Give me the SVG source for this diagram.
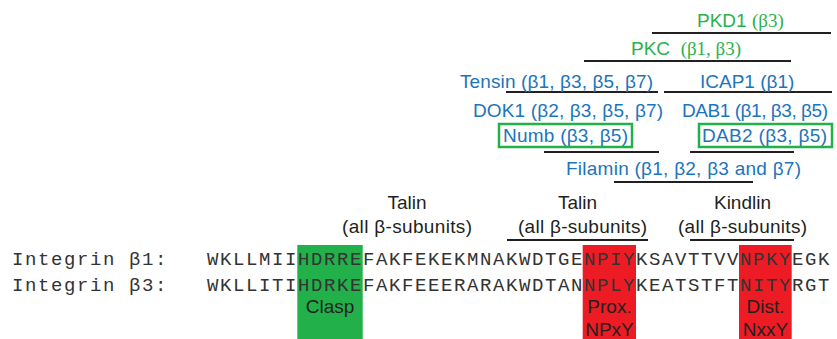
<svg xmlns="http://www.w3.org/2000/svg" width="837" height="339" viewBox="0 0 837 339">
<style>
.sans{font-family:"Liberation Sans",Arial,sans-serif;font-size:19px}
.serif{font-family:"Liberation Serif","Times New Roman",serif}
.blue{fill:#1b75bc}
.green{fill:#2bb14b}
.dark{fill:#231f20}
.mono{font-family:"Liberation Mono","Courier New",monospace;font-size:19px;letter-spacing:1.6px;fill:#333}
.ln{stroke:#231f20;stroke-width:2;fill:none}
.gbox{fill:none;stroke:#22b04a;stroke-width:2.5}
.mid{text-anchor:middle}
.lbl{font-size:19px}
</style>
<rect width="837" height="339" fill="#fff"/>
<g id="motif-boxes">
<rect id="clasp-box" x="297.3" y="245" width="65.4" height="94" fill="#22b04a"/>
<rect id="npxy-box" x="582.7" y="245" width="53.3" height="94" fill="#ed1c24"/>
<rect id="nxxy-box" x="739" y="245" width="52.7" height="94" fill="#ed1c24"/>
</g>
<g id="connectors">
<line class="ln" x1="652" y1="33" x2="831" y2="33"/>
<line class="ln" x1="584" y1="61" x2="791" y2="61"/>
<line class="ln" x1="506" y1="92" x2="658" y2="92"/>
<line class="ln" x1="664" y1="92" x2="832" y2="92"/>
<line class="ln" x1="544" y1="152" x2="659" y2="152"/>
<line class="ln" x1="690" y1="152" x2="794" y2="152"/>
<line class="ln" x1="614" y1="182" x2="753" y2="182"/>
<line class="ln" x1="507" y1="240" x2="648" y2="240"/>
<line class="ln" x1="690" y1="240" x2="794" y2="240"/>
</g>
<g id="pkd1"><text class="sans green" x="697" y="27">PKD1 <tspan class="serif">(β3)</tspan></text></g>
<g id="pkc"><text class="sans green" x="631" y="55" xml:space="preserve">PKC  <tspan class="serif">(β1, β3)</tspan></text></g>
<g id="tensin"><text class="sans blue" x="460" y="88" textLength="193">Tensin (β1, β3, β5, β7)</text></g>
<g id="icap1"><text class="sans blue" x="700" y="88">ICAP1 (β1)</text></g>
<g id="dok1"><text class="sans blue" x="473" y="117" textLength="190">DOK1 (β2, β3, β5, β7)</text></g>
<g id="dab1"><text class="sans blue" x="682" y="117" textLength="146">DAB1 (β1, β3, β5)</text></g>
<g id="numb"><rect class="gbox" x="499" y="124" width="133" height="23"/><text class="sans blue" x="503" y="142" textLength="125">Numb (β3, β5)</text></g>
<g id="dab2"><rect class="gbox" x="699" y="124" width="133" height="23"/><text class="sans blue" x="702" y="142" textLength="125">DAB2 (β3, β5)</text></g>
<g id="filamin"><text class="sans blue" x="566" y="175" textLength="235">Filamin (β1, β2, β3 and β7)</text></g>
<g id="talin1"><text class="sans dark mid" x="407" y="209">Talin</text><text class="sans dark" x="342" y="233" textLength="130">(all β-subunits)</text></g>
<g id="talin2"><text class="sans dark mid" x="577.5" y="209">Talin</text><text class="sans dark" x="518" y="233" textLength="129">(all β-subunits)</text></g>
<g id="kindlin"><text class="sans dark mid" x="742.5" y="209">Kindlin</text><text class="sans dark" x="678" y="233" textLength="129">(all β-subunits)</text></g>
<g id="sequences">
<text class="mono" x="12" y="264.5">Integrin β1:</text>
<text class="mono" x="12" y="290.5">Integrin β3:</text>
<text class="mono" x="207" y="264.5">WKLLMIIHDRREFAKFEKEKMNAKWDTGENPIYKSAVTTVVNPKYEGK</text>
<text class="mono" x="207" y="290.5">WKLLITIHDRKEFAKFEEERARAKWDTANNPLYKEATSTFTNITYRGT</text>
</g>
<g id="box-labels">
<text class="sans dark mid lbl" x="330" y="313">Clasp</text>
<text class="sans dark mid lbl" x="609.5" y="313">Prox.</text>
<text class="sans dark mid lbl" x="609.5" y="335.5">NPxY</text>
<text class="sans dark mid lbl" x="765.5" y="313">Dist.</text>
<text class="sans dark mid lbl" x="765.5" y="335.5">NxxY</text>
</g>
</svg>
